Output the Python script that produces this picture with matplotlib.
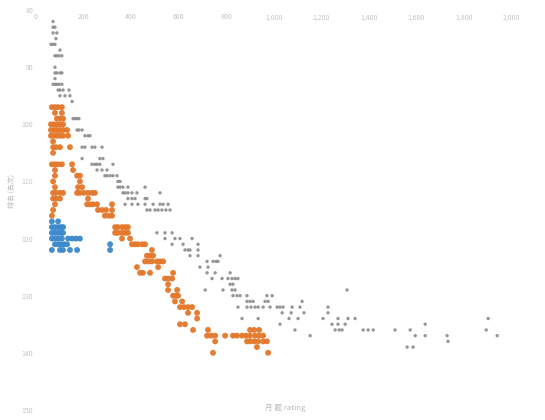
import matplotlib
matplotlib.use("Agg")
import matplotlib.pyplot as plt

plt.rcParams['font.family'] = ['Noto Sans CJK SC', 'DejaVu Sans']

# rank -> x values, one dict per group
gray_rows = {
    82: [72], 83: [72, 80], 84: [72, 88], 85: [84], 86: [63, 72, 80],
    87: [101], 88: [80, 88, 97, 109], 90: [80], 91: [80, 88, 101, 109],
    92: [80], 93: [72, 80, 88, 97, 109], 94: [93, 101, 114, 139],
    95: [101, 122, 143], 96: [152], 99: [156, 165, 173, 181],
    101: [173, 181, 194], 102: [206, 219, 227],
    104: [194, 206, 236, 248, 278], 106: [194, 269, 282],
    107: [236, 248, 257, 269, 324], 108: [257, 278, 299],
    109: [290, 299, 312, 324, 341], 110: [345, 354],
    111: [345, 354, 366, 387, 459], 112: [366, 375, 387, 404, 425, 522],
    113: [387, 404, 417, 459, 467],
    114: [375, 404, 429, 459, 493, 522, 535, 556],
    115: [467, 480, 501, 514, 530, 547, 564],
    119: [509, 543, 573], 120: [543, 585, 606, 657],
    121: [573, 619, 682], 122: [627, 640, 648, 682],
    123: [648, 682, 775], 124: [720, 745, 758, 766], 125: [690, 724],
    126: [720, 754, 817], 127: [741, 783, 808, 825, 838, 850],
    128: [817, 829], 129: [712, 787, 825, 838, 1309],
    130: [829, 846, 859, 888, 972, 994],
    131: [888, 901, 914, 964, 977, 1120],
    132: [850, 888, 905, 922, 935, 956, 985, 1015, 1027, 1040, 1078, 1111, 1229],
    133: [1036, 1074, 1128, 1229],
    134: [867, 935, 1065, 1103, 1208, 1271, 1313, 1343, 1903],
    135: [1027, 1246, 1271, 1301, 1638],
    136: [1090, 1259, 1276, 1288, 1377, 1398, 1419, 1511, 1575, 1895],
    137: [1154, 1596, 1638, 1730, 1941],
    138: [1734], 139: [1562, 1587],
}

orange_rows = {
    97: [67, 80, 93, 109], 98: [80, 109], 99: [88, 101, 114],
    100: [63, 76, 88, 101, 114], 101: [63, 76, 88, 101, 114, 131],
    102: [63, 76, 88, 101, 114, 135], 103: [72], 104: [72, 84, 101, 143],
    105: [72], 107: [67, 80, 93, 109, 152], 108: [80, 156],
    109: [80, 173, 185], 110: [72, 185], 111: [80, 177, 194],
    112: [72, 84, 101, 114, 173, 185, 202, 219, 236, 248],
    113: [72, 84, 101, 219], 114: [80, 215, 227, 240, 257, 320],
    115: [72, 261, 278, 295, 320], 116: [67, 290, 307, 320],
    118: [333, 345, 362, 375, 387], 119: [333, 345, 362, 375, 387],
    120: [362, 396], 121: [404, 417, 429, 446, 459], 122: [488],
    123: [467, 480, 493], 124: [459, 472, 488, 509, 522, 535],
    125: [425, 514], 126: [438, 450, 480, 577], 127: [543, 556, 573],
    128: [556], 129: [556, 594], 130: [577, 590, 598], 131: [585, 615],
    132: [606, 623, 640, 657], 133: [640, 678], 134: [678],
    135: [606, 627], 136: [661, 724, 901, 918, 939],
    137: [720, 737, 754, 796, 829, 846, 867, 884, 901, 922, 939, 956],
    138: [754, 888, 901, 918, 935, 956, 972], 139: [930], 140: [745, 977],
}

blue_rows = {
    117: [67, 93], 118: [67, 80, 93, 105, 114], 119: [67, 80, 93, 105, 114],
    120: [67, 80, 93, 109, 135, 152, 168, 185],
    121: [80, 93, 105, 118, 131, 312], 122: [67, 101, 114, 143, 173, 312],
}

x_ticks = [0, 200, 400, 600, 800, 1000, 1200, 1400, 1600, 1800, 2000]
x_tick_labels = ["0", "200", "400", "600", "800", "1,000", "1,200",
                 "1,400", "1,600", "1,800", "2,000"]
y_ticks = [80, 90, 100, 110, 120, 130, 140, 150]
x_title = "月 题 rating"
y_title = "排名 (名次)"


def flatten(rows):
    xs, ys = [], []
    for rank, vals in rows.items():
        for v in vals:
            xs.append(v)
            ys.append(rank)
    return xs, ys


fig = plt.figure(figsize=(5.45, 4.2), dpi=100)
ax = fig.add_axes([0.066, 0.024, 0.872, 0.952])

gx, gy = flatten(gray_rows)
ox, oy = flatten(orange_rows)
bx, by = flatten(blue_rows)

ax.scatter(gx, gy, s=6, color="#8c8c8c", edgecolors="none", alpha=0.9, zorder=2)
ax.scatter(ox, oy, s=18, color="#e4772a", edgecolors="none", alpha=0.95, zorder=3)
ax.scatter(bx, by, s=18, color="#3b88cc", edgecolors="none", alpha=0.95, zorder=3)

ax.set_xlim(0, 2000)
ax.set_ylim(150, 80)

ax.xaxis.tick_top()
ax.set_xticks(x_ticks)
ax.set_xticklabels(x_tick_labels)
ax.set_yticks(y_ticks)
ax.tick_params(axis="x", length=0, pad=-8, labelsize=5, labelcolor="#c4c4c4")
ax.tick_params(axis="y", length=0, pad=2, labelsize=5, labelcolor="#c4c4c4")

for sp in ax.spines.values():
    sp.set_visible(False)

fig.text(0.523, 0.028, x_title, ha="center", va="center", fontsize=5.5,
         color="#b8b8b8")
fig.text(0.022, 0.545, y_title, ha="center", va="center", rotation=90,
         fontsize=5, color="#b8b8b8")

fig.savefig("out.png", dpi=100, facecolor="white")
